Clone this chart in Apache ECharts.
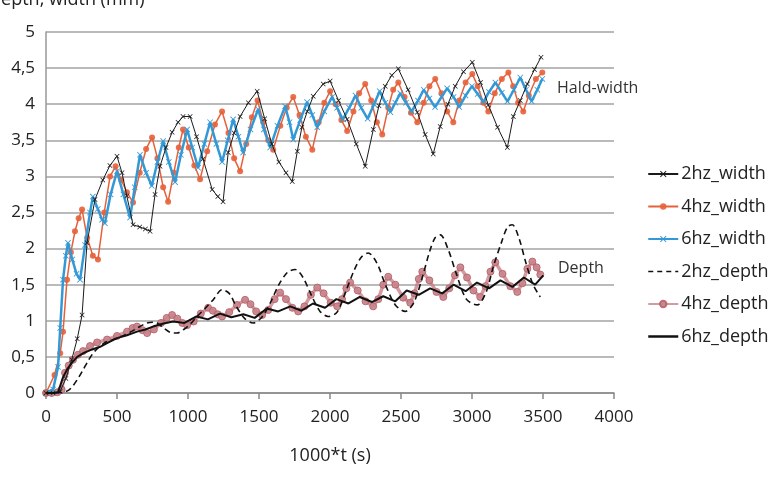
<!DOCTYPE html>
<html>
<head>
<meta charset="utf-8">
<script src="https://cdn.jsdelivr.net/npm/echarts@6/dist/echarts.min.js"></script>
<style>
  html, body { margin: 0; padding: 0; background: #fff; }
  #main { width: 782px; height: 478px; }
</style>
</head>
<body>
<div id="main"></div>
<script>
// x = 1000*t (s), y = mm
var yTicks = ['0', '0,5', '1', '1,5', '2', '2,5', '3', '3,5', '4', '4,5', '5'];
var seriesNames = ['2hz_width', '4hz_width', '6hz_width', '2hz_depth', '4hz_depth', '6hz_depth'];

var w2hz = [[0,0],[50,0],[99,0.02],[140,0.2],[181,0.46],[220,0.75],[254,1.08],[289,2.08],[345,2.68],[400,2.95],[450,3.15],[500,3.28],[535,3.05],[569,2.73],[613,2.33],[660,2.3],[700,2.27],[733,2.24],[768,2.75],[803,3.14],[845,3.4],[888,3.61],[930,3.75],[965,3.83],[1015,3.83],[1060,3.55],[1106,3.24],[1170,2.82],[1210,2.72],[1247,2.65],[1283,3.33],[1325,3.6],[1367,3.83],[1425,4.02],[1487,4.18],[1540,3.8],[1590,3.45],[1640,3.2],[1690,3.05],[1734,2.93],[1770,3.35],[1802,3.68],[1840,3.9],[1882,4.11],[1952,4.28],[2001,4.32],[2060,4.05],[2121,3.79],[2185,3.45],[2248,3.14],[2305,3.65],[2345,3.98],[2389,4.25],[2435,4.4],[2481,4.49],[2550,4.2],[2615,3.89],[2670,3.58],[2727,3.31],[2776,3.69],[2830,4.0],[2882,4.25],[2940,4.45],[3002,4.58],[3060,4.3],[3115,3.99],[3180,3.68],[3249,3.4],[3291,3.83],[3340,4.05],[3390,4.28],[3440,4.48],[3486,4.65]];

var w4hz = [[0,0],[60,0.25],[100,0.55],[120,0.85],[148,1.57],[175,1.95],[204,2.24],[230,2.42],[254,2.54],[290,2.15],[330,1.9],[366,1.85],[410,2.5],[451,3.0],[490,3.14],[530,2.95],[570,2.78],[613,2.64],[660,3.05],[705,3.38],[747,3.54],[785,3.25],[825,2.85],[860,2.65],[900,3.05],[935,3.4],[965,3.65],[1005,3.4],[1045,3.15],[1085,2.96],[1135,3.35],[1190,3.72],[1240,3.9],[1285,3.6],[1325,3.25],[1367,3.07],[1410,3.45],[1450,3.82],[1490,4.05],[1530,3.75],[1565,3.5],[1600,3.37],[1650,3.7],[1695,3.95],[1741,4.1],[1785,3.85],[1830,3.55],[1875,3.37],[1920,3.75],[1960,4.02],[2001,4.18],[2040,4.0],[2080,3.78],[2121,3.63],[2165,3.9],[2205,4.15],[2248,4.28],[2290,4.05],[2330,3.75],[2368,3.58],[2410,3.95],[2445,4.2],[2481,4.3],[2525,4.1],[2570,3.88],[2615,3.75],[2660,4.02],[2700,4.25],[2741,4.35],[2785,4.15],[2825,3.9],[2868,3.75],[2910,4.05],[2955,4.3],[3002,4.42],[3040,4.25],[3080,4.02],[3115,3.9],[3160,4.15],[3210,4.35],[3256,4.44],[3290,4.25],[3325,4.02],[3361,3.9],[3400,4.12],[3450,4.35],[3495,4.44]];

var w6hz = [[0,0],[50,0.05],[85,0.36],[100,0.9],[120,1.57],[140,1.9],[155,2.08],[185,1.85],[215,1.65],[240,1.57],[275,2.05],[310,2.5],[330,2.72],[365,2.55],[395,2.4],[415,2.35],[455,2.75],[500,3.07],[545,2.75],[592,2.43],[625,2.85],[662,3.3],[705,3.05],[745,2.87],[785,3.2],[825,3.49],[865,3.2],[909,2.92],[950,3.3],[994,3.65],[1030,3.4],[1071,3.12],[1115,3.45],[1156,3.75],[1200,3.45],[1240,3.2],[1280,3.5],[1318,3.79],[1355,3.55],[1388,3.33],[1440,3.65],[1494,3.93],[1535,3.65],[1579,3.4],[1630,3.7],[1684,3.97],[1715,3.75],[1741,3.51],[1790,3.78],[1839,4.03],[1875,3.85],[1910,3.68],[1960,3.9],[2015,4.1],[2050,3.95],[2090,3.79],[2135,3.95],[2180,4.12],[2220,3.95],[2265,3.8],[2310,4.0],[2350,4.18],[2390,4.02],[2425,3.89],[2460,4.02],[2495,4.15],[2535,4.02],[2575,3.9],[2620,4.05],[2660,4.2],[2700,4.08],[2740,3.96],[2785,4.1],[2825,4.22],[2870,4.1],[2910,3.96],[2955,4.12],[3000,4.25],[3040,4.14],[3080,4.03],[3120,4.17],[3165,4.3],[3210,4.16],[3250,4.04],[3295,4.2],[3340,4.37],[3380,4.2],[3420,4.04],[3460,4.2],[3495,4.35]];

var d2hz = [[0,0],[60,0],[120,0.01],[160,0.04],[190,0.1],[225,0.2],[261,0.32],[295,0.44],[331,0.55],[370,0.63],[416,0.7],[460,0.73],[500,0.76],[550,0.8],[600,0.85],[650,0.91],[712,0.97],[750,0.98],[782,0.97],[830,0.9],[874,0.84],[923,0.83],[970,0.88],[1020,0.96],[1064,1.06],[1120,1.17],[1177,1.29],[1240,1.43],[1290,1.38],[1340,1.2],[1400,1.03],[1459,0.97],[1520,1.05],[1580,1.25],[1640,1.5],[1700,1.67],[1755,1.71],[1810,1.6],[1870,1.35],[1930,1.13],[1987,1.06],[2050,1.12],[2110,1.4],[2170,1.7],[2220,1.88],[2269,1.94],[2330,1.8],[2390,1.5],[2460,1.22],[2530,1.13],[2590,1.25],[2650,1.6],[2700,1.95],[2740,2.15],[2777,2.19],[2830,2.0],[2890,1.65],[2960,1.3],[3037,1.22],[3100,1.4],[3150,1.75],[3210,2.1],[3250,2.3],[3284,2.33],[3330,2.15],[3380,1.8],[3430,1.5],[3481,1.33]];

var d4hz = [[0,0],[40,0],[80,0.01],[110,0.05],[134,0.28],[160,0.38],[190,0.46],[225,0.53],[261,0.58],[310,0.65],[360,0.7],[430,0.74],[500,0.79],[571,0.85],[610,0.9],[641,0.92],[680,0.87],[712,0.83],[760,0.88],[810,0.97],[850,1.04],[888,1.08],[925,1.03],[960,0.97],[994,0.94],[1040,0.99],[1090,1.1],[1142,1.18],[1175,1.14],[1210,1.09],[1240,1.06],[1290,1.12],[1345,1.22],[1402,1.29],[1440,1.23],[1480,1.13],[1522,1.08],[1565,1.15],[1610,1.3],[1649,1.39],[1690,1.3],[1735,1.18],[1776,1.13],[1820,1.2],[1865,1.36],[1910,1.46],[1955,1.38],[2005,1.25],[2051,1.2],[2085,1.3],[2115,1.45],[2142,1.53],[2195,1.42],[2250,1.27],[2304,1.2],[2340,1.3],[2375,1.5],[2410,1.61],[2460,1.5],[2515,1.32],[2565,1.25],[2595,1.38],[2625,1.58],[2650,1.68],[2700,1.56],[2750,1.4],[2798,1.33],[2840,1.45],[2880,1.63],[2918,1.74],[2965,1.6],[3010,1.42],[3058,1.33],[3095,1.48],[3130,1.68],[3164,1.81],[3215,1.65],[3270,1.48],[3319,1.4],[3355,1.52],[3390,1.72],[3425,1.82],[3455,1.74],[3481,1.64]];

var d6hz = [[0,0],[60,0],[85,0.01],[120,0.22],[150,0.33],[183,0.42],[220,0.5],[261,0.55],[320,0.6],[381,0.64],[440,0.7],[500,0.76],[570,0.8],[641,0.85],[700,0.88],[754,0.92],[820,0.96],[895,0.99],[975,0.97],[1060,1.06],[1140,1.02],[1225,1.1],[1305,1.05],[1390,1.09],[1470,1.04],[1555,1.17],[1635,1.13],[1720,1.2],[1800,1.14],[1880,1.24],[1965,1.18],[2045,1.3],[2130,1.24],[2210,1.33],[2295,1.26],[2375,1.34],[2460,1.27],[2540,1.42],[2625,1.36],[2705,1.45],[2790,1.38],[2870,1.5],[2955,1.41],[3035,1.53],[3120,1.45],[3200,1.56],[3285,1.47],[3365,1.6],[3445,1.5],[3502,1.63]];

var crossPath = 'path://M0,1L1,0L5,4L9,0L10,1L6,5L10,9L9,10L5,6L1,10L0,9L4,5Z';
var fontFam = 'Open Sans';

var myChart = echarts.init(document.getElementById('main'));
var option = {
  animation: false,
  backgroundColor: '#fff',
  textStyle: { fontFamily: fontFam },
  grid: { left: 46, right: 168, top: 32, bottom: 85 },
  graphic: [
    { type: 'text', left: -12, top: -9, style: { text: 'Depth, width (mm)', font: '18px "Open Sans"', fill: '#222' } },
    { type: 'text', left: 557, top: 80, style: { text: 'Hald-width', font: '16px "Open Sans"', fill: '#333' } },
    { type: 'text', left: 558, top: 260, style: { text: 'Depth', font: '16px "Open Sans"', fill: '#333' } }
  ],
  legend: {
    data: [
      { name: '2hz_width' },
      { name: '4hz_width' },
      { name: '6hz_width' },
      { name: '2hz_depth', itemStyle: { opacity: 0 }, lineStyle: { type: [5, 4], width: 1.6 } },
      { name: '4hz_depth' },
      { name: '6hz_depth', itemStyle: { opacity: 0 }, lineStyle: { width: 2.5 } }
    ],
    orient: 'vertical',
    left: 642,
    top: 160,
    itemGap: 14.5,
    itemWidth: 30,
    itemHeight: 8,
    textStyle: { fontSize: 18, color: '#222', fontFamily: fontFam, padding: [0, 0, 0, -2] }
  },
  xAxis: {
    type: 'value',
    min: 0,
    max: 4000,
    interval: 500,
    name: '1000*t (s)',
    nameLocation: 'middle',
    nameGap: 54,
    nameTextStyle: { fontSize: 18, color: '#222' },
    axisLine: { show: true, lineStyle: { color: '#888', width: 1.5 } },
    axisTick: { show: true, length: 6, lineStyle: { color: '#888', width: 1.5 } },
    axisLabel: { fontSize: 17, color: '#222', margin: 16, formatter: function (v) { return String(v); } },
    splitLine: { show: false }
  },
  yAxis: {
    type: 'value',
    min: 0,
    max: 5,
    interval: 0.5,
    axisLine: { show: true, lineStyle: { color: '#999', width: 1.5 } },
    axisTick: { show: false },
    axisLabel: {
      fontSize: 17, color: '#222', margin: 11,
      formatter: function (v) { return yTicks[Math.round(v * 2)]; }
    },
    splitLine: { show: true, lineStyle: { color: '#a3a3a3', width: 1.5 } }
  },
  series: [
    {
      name: '2hz_width', type: 'line', data: w2hz, z: 5,
      symbol: crossPath, symbolSize: 5, showAllSymbol: true,
      lineStyle: { color: '#1a1a1a', width: 1 },
      itemStyle: { color: '#1a1a1a' }
    },
    {
      name: '4hz_width', type: 'line', data: w4hz, z: 3,
      symbol: 'circle', symbolSize: 6, showAllSymbol: true,
      lineStyle: { color: '#e6603a', width: 1.5 },
      itemStyle: { color: '#e6603a', opacity: 0.9 }
    },
    {
      name: '6hz_width', type: 'line', data: w6hz, z: 4,
      symbol: crossPath, symbolSize: 6, showAllSymbol: true,
      lineStyle: { color: '#3399d6', width: 2.5 },
      itemStyle: { color: '#3399d6' }
    },
    {
      name: '2hz_depth', type: 'line', data: d2hz, z: 6,
      symbol: 'none', smooth: 0.3,
      lineStyle: { color: '#111', width: 1.6, type: [6, 4] },
      itemStyle: { color: '#111' }
    },
    {
      name: '4hz_depth', type: 'line', data: d4hz, z: 2,
      symbol: 'circle', symbolSize: 7, showAllSymbol: true,
      lineStyle: { color: 'rgba(196,120,128,0.75)', width: 3.5 },
      itemStyle: { color: '#c9848b', borderColor: '#b5636c', borderWidth: 1, opacity: 0.9 }
    },
    {
      name: '6hz_depth', type: 'line', data: d6hz, z: 7,
      symbol: 'none',
      lineStyle: { color: '#111', width: 2 },
      itemStyle: { color: '#111' }
    }
  ]
};
myChart.setOption(option);
</script>
</body>
</html>
